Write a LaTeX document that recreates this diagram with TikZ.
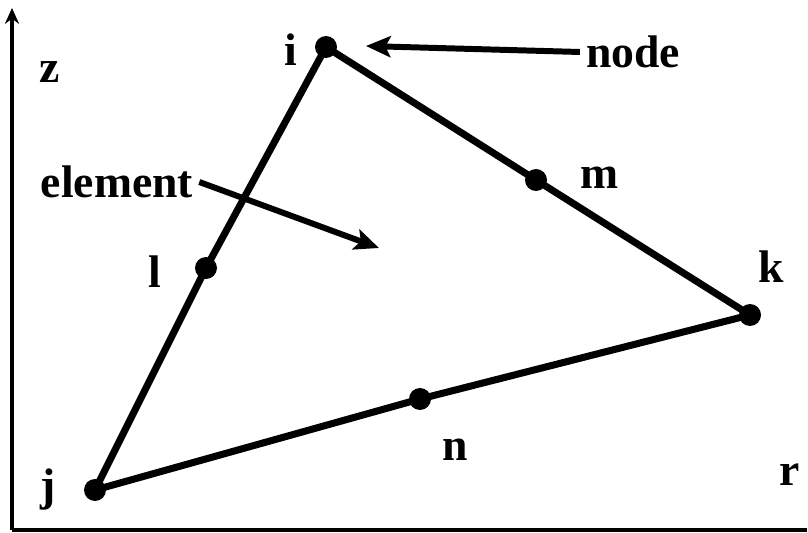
\documentclass[tikz,border=0pt]{standalone}
\usepackage{fontspec}
\setmainfont{Liberation Serif}
\usetikzlibrary{arrows.meta}

\begin{document}
\begin{tikzpicture}[x=0.02cm, y=-0.02cm,
    every node/.style={font=\fontsize{26}{30}\selectfont\bfseries},
    pt/.style={circle, fill=black, inner sep=0pt, minimum size=0.44cm},
    edge/.style={line width=4pt, line cap=round},
    ptr/.style={line width=3.4pt, -{Stealth[length=14pt, width=12pt, inset=3pt]}}]

    % --- 1. 描画範囲 ---
    \useasboundingbox (0, 0) rectangle (808, 533);

    % --- 2. 座標軸 ---
    \coordinate (O) at (12, 530);
    \coordinate (Zend) at (12, 8);
    \coordinate (Rend) at (807, 530);
    \draw[line width=2.4pt, -{Stealth[length=9pt, width=8pt]}] (O) -- (Zend);
    \draw[line width=2.4pt] (O) -- (Rend);
    \node (zlbl) at (50, 72) {z};
    \node (rlbl) at (790, 475) {r};

    % --- 3. 節点 ---
    \node[pt] (i) at (326, 47) {};
    \node[pt] (j) at (95, 490) {};
    \node[pt] (k) at (750, 315) {};
    \node[pt] (l) at (206, 268) {};
    \node[pt] (m) at (536, 180) {};
    \node[pt] (n) at (420, 399) {};

    % --- 4. 三角形要素の辺 ---
    \draw[edge] (i.center) -- (m.center) -- (k.center);
    \draw[edge] (k.center) -- (n.center) -- (j.center);
    \draw[edge] (j.center) -- (l.center) -- (i.center);

    % 節点ラベル
    \node (ilbl) at (291, 50) {i};
    \node (jlbl) at (48, 490) {j};
    \node (klbl) at (771, 267) {k};
    \node (llbl) at (155, 272) {l};
    \node (mlbl) at (600, 178) {m};
    \node (nlbl) at (455, 450) {n};

    % --- 5. 説明ラベルと矢印 ---
    \node (nodelbl) at (633, 52) {node};
    \coordinate (nodetip) at (366, 46);
    \draw[ptr] (nodelbl.west) -- (nodetip);

    \node (elemlbl) at (117, 182) {element};
    \coordinate (elemtip) at (379, 248);
    \draw[ptr] (elemlbl.east) -- (elemtip);

\end{tikzpicture}
\end{document}
